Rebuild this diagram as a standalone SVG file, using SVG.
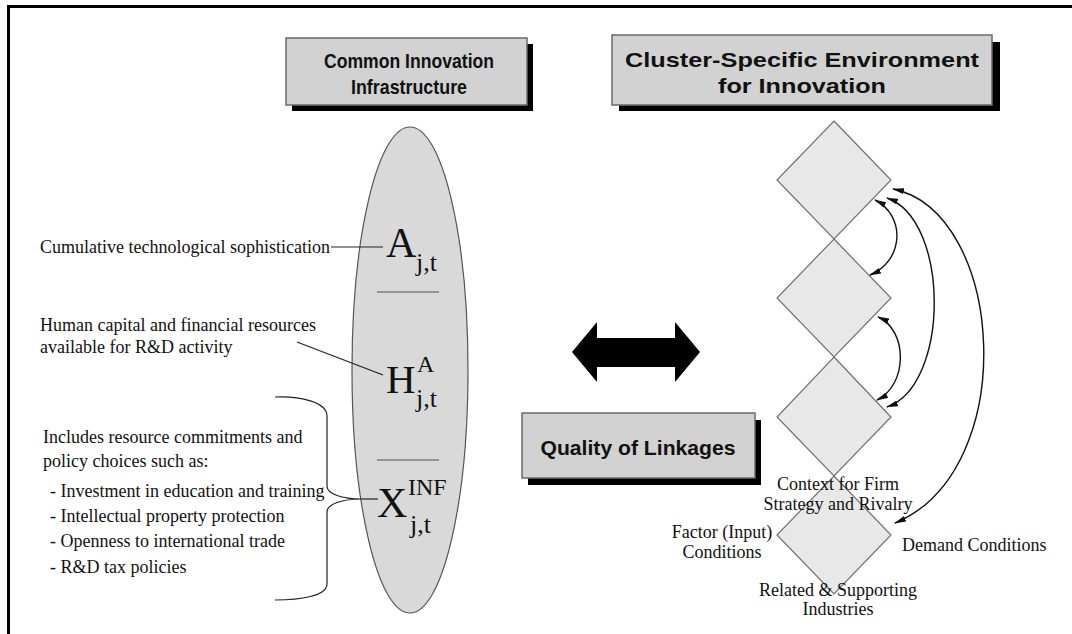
<svg xmlns="http://www.w3.org/2000/svg" width="1072" height="634" viewBox="0 0 1072 634">
<defs>
<style>
.frame{stroke:#000;stroke-width:3;fill:none}
.box{fill:#d2d2d2;stroke:#6a6a6a;stroke-width:1.5}
.shadow{fill:#000}
.head{font-family:"Liberation Sans",Arial,sans-serif;font-weight:bold;fill:#111;text-anchor:middle}
.lbl{font-family:"Liberation Serif","Times New Roman",serif;font-size:18px;fill:#111}
.math{font-family:"Liberation Serif","Times New Roman",serif;fill:#111}
.dia{fill:#e8e8e8;stroke:#707070;stroke-width:1.2}
.thin{stroke:#222;stroke-width:1.2;fill:none}
.sep{stroke:#555;stroke-width:1.2}
.arc{stroke:#111;stroke-width:1.4;fill:none;marker-start:url(#ah);marker-end:url(#ah)}
</style>
<marker id="ah" viewBox="0 0 12 6" refX="11" refY="3" markerWidth="12" markerHeight="6" markerUnits="userSpaceOnUse" orient="auto-start-reverse">
<path d="M0,0 L12,3 L0,6 z" fill="#111"/>
</marker>
</defs>
<rect width="1072" height="634" fill="#fff"/>
<path class="frame" d="M8.5,634 V6.5 H1072"/>

<g id="common-box">
<rect class="shadow" x="292" y="44" width="241" height="67"/>
<rect class="box" x="286" y="38" width="241" height="67"/>
<text class="head" x="409" y="68" font-size="20.5" textLength="170" lengthAdjust="spacingAndGlyphs">Common Innovation</text>
<text class="head" x="409" y="94" font-size="20.5" textLength="116" lengthAdjust="spacingAndGlyphs">Infrastructure</text>
</g>

<g id="cluster-box">
<rect class="shadow" x="619" y="42" width="381" height="69"/>
<rect class="box" x="612" y="35" width="380" height="70"/>
<text class="head" x="802" y="67" font-size="20.5" textLength="354" lengthAdjust="spacingAndGlyphs">Cluster-Specific Environment</text>
<text class="head" x="802" y="93" font-size="20.5" textLength="168" lengthAdjust="spacingAndGlyphs">for Innovation</text>
</g>

<g id="quality-box">
<rect class="shadow" x="528" y="420" width="233" height="65"/>
<rect class="box" x="522" y="413" width="233" height="65"/>
<text class="head" x="638" y="455" font-size="20.5" textLength="195" lengthAdjust="spacingAndGlyphs">Quality of Linkages</text>
</g>

<g id="infrastructure-ellipse">
<ellipse cx="410" cy="370" rx="58" ry="243" fill="#d9d9d9" stroke="#555" stroke-width="1.2"/>
<line class="sep" x1="377" y1="292" x2="439" y2="292"/>
<line class="sep" x1="377" y1="460" x2="439" y2="460"/>
</g>

<g id="A-term">
<text class="math" x="386" y="257" font-size="42">A</text>
<text class="math" x="416" y="271" font-size="26">j,t</text>
</g>
<g id="H-term">
<text class="math" x="386" y="393" font-size="41">H</text>
<text class="math" x="417" y="372" font-size="24">A</text>
<text class="math" x="416" y="407" font-size="26">j,t</text>
</g>
<g id="X-term">
<text class="math" x="377" y="517" font-size="42">X</text>
<text class="math" x="408" y="495" font-size="24">INF</text>
<text class="math" x="410" y="533" font-size="26">j,t</text>
</g>

<g id="label-A">
<text class="lbl" x="40" y="253">Cumulative technological sophistication</text>
</g>
<g id="label-H">
<text class="lbl" x="40" y="331">Human capital and financial resources</text>
<text class="lbl" x="40" y="353">available for R&amp;D activity</text>
</g>
<g id="label-X">
<text class="lbl" x="43" y="443">Includes resource commitments and</text>
<text class="lbl" x="43" y="467">policy choices such as:</text>
<text class="lbl" x="50" y="497">- Investment in education and training</text>
<text class="lbl" x="50" y="522">- Intellectual property protection</text>
<text class="lbl" x="50" y="547">- Openness to international trade</text>
<text class="lbl" x="50" y="573">- R&amp;D tax policies</text>
</g>

<g id="double-arrow">
<polygon points="572,352 597,322 597,338 675,338 675,322 700,352 675,382 675,367 597,367 597,382" fill="#000"/>
</g>

<g id="diamond-context">
<polygon class="dia" points="834,121 891,180 834,239 777,180"/>
</g>
<g id="diamond-2">
<polygon class="dia" points="834,239 891,298 834,357 777,298"/>
</g>
<g id="diamond-3">
<polygon class="dia" points="834,357 891,417 834,476 777,417"/>
</g>
<g id="diamond-4">
<polygon class="dia" points="834,476 891,535 834,594 777,535"/>
</g>

<g id="diamond-labels">
<text class="lbl" x="838" y="490" text-anchor="middle">Context for Firm</text>
<text class="lbl" x="838" y="510" text-anchor="middle">Strategy and Rivalry</text>
<text class="lbl" x="722" y="538" text-anchor="middle">Factor (Input)</text>
<text class="lbl" x="722" y="558" text-anchor="middle">Conditions</text>
<text class="lbl" x="902" y="551">Demand Conditions</text>
<text class="lbl" x="838" y="596" text-anchor="middle">Related &amp; Supporting</text>
<text class="lbl" x="838" y="615" text-anchor="middle">Industries</text>
</g>

<g id="connectors">
<line class="thin" x1="331" y1="247" x2="383" y2="247"/>
<line class="thin" x1="297" y1="342" x2="383" y2="375"/>
<path class="thin" d="M275,397 C300,396 327,402 327,416 L327,486 C327,494 342,499 362,499 C342,499 327,504 327,512 L327,584 C327,596 300,600 275,600"/>
<line class="thin" x1="362" y1="499" x2="378" y2="499"/>
<path class="arc" d="M875,200 C905,215 905,260 870,275"/>
<path class="arc" d="M878,317 C908,330 908,385 877,400"/>
<path class="arc" d="M887,198 C950,220 950,385 887,407"/>
<path class="arc" d="M893,189 C1005,212 1022,470 895,523"/>
</g>
</svg>
